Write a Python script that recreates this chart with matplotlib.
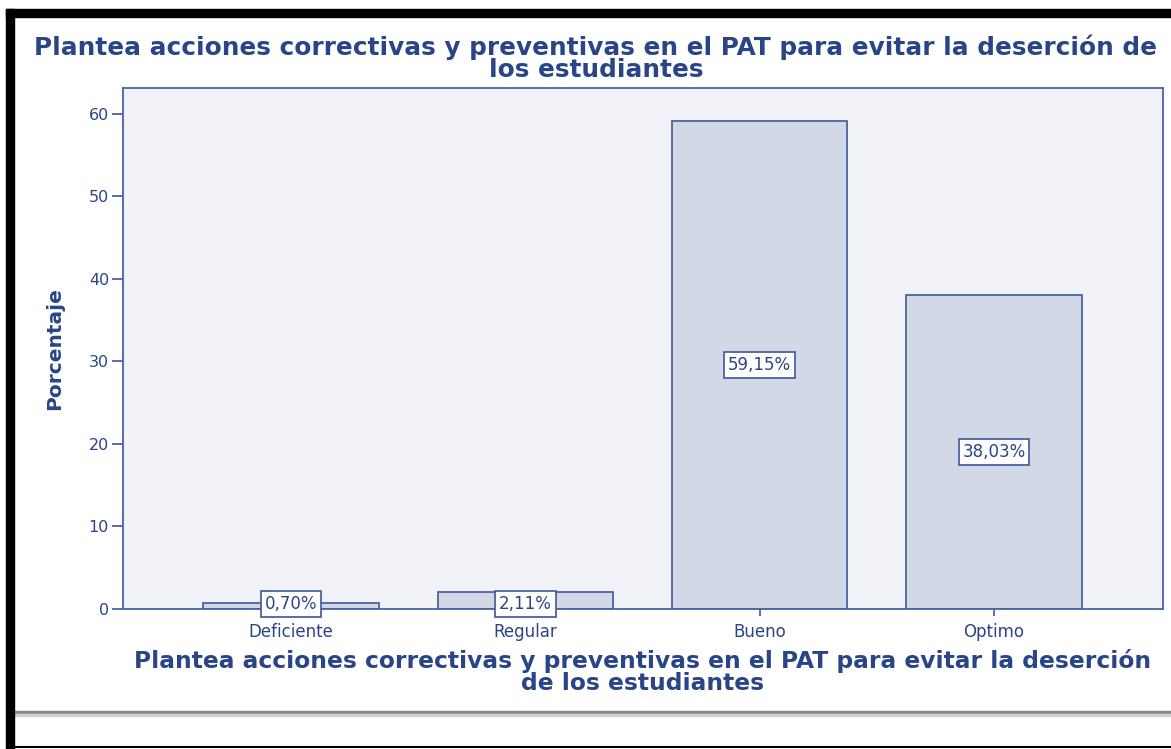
import matplotlib
matplotlib.use("Agg")
import matplotlib.pyplot as plt
from matplotlib.patches import Rectangle
from matplotlib.lines import Line2D

categorias = ["Deficiente", "Regular", "Bueno", "Optimo"]
porcentajes = [0.70, 2.11, 59.15, 38.03]
etiquetas = ["0,70%", "2,11%", "59,15%", "38,03%"]
yticks = [0, 10, 20, 30, 40, 50, 60]

titulo = "Plantea acciones correctivas y preventivas en el PAT para evitar la deserción de\nlos estudiantes"
xlab = "Plantea acciones correctivas y preventivas en el PAT para evitar la deserción\nde los estudiantes"

azul = "#2a4587"
borde = "#4a63a0"
relleno = "#d2d8e5"
fondo = "#f1f2f7"

plt.rcParams["font.family"] = ["DejaVu Sans"]

fig = plt.figure(figsize=(11.71, 7.49), dpi=100)
W, H = 1171, 749

# axes position in pixels: left 123, right 1163, top 88, bottom 609
ax = fig.add_axes([123 / W, 1 - 609 / H, (1163 - 123) / W, (609 - 88) / H])
ax.set_facecolor(fondo)

x = range(len(categorias))
ax.bar(x, porcentajes, width=0.75, color=relleno, edgecolor=borde, linewidth=1.3, zorder=2)

for i, (v, t) in enumerate(zip(porcentajes, etiquetas)):
    ax.text(i, v / 2 if v > 5 else 0.6, t, ha="center", va="center", fontsize=12, color=azul,
            zorder=3, bbox=dict(boxstyle="square,pad=0.22", fc="white", ec=borde, lw=1.3))

ax.set_xlim(-0.718, 3.722)
ax.set_ylim(0, 63.15)
ax.set_yticks(yticks)
ax.set_xticks(list(x))
ax.set_xticklabels(categorias)
ax.tick_params(axis="y", colors=borde, labelcolor=azul, labelsize=11.5, length=8, width=1.3, pad=2)
ax.tick_params(axis="x", colors=borde, labelcolor=azul, labelsize=12, length=5, width=1.3, pad=5)
for s in ax.spines.values():
    s.set_color(borde)
    s.set_linewidth(1.3)

ax.set_ylabel("Porcentaje", fontsize=14.5, fontweight="bold", color=azul, labelpad=18)
ax.set_xlabel(xlab, fontsize=16.8, fontweight="bold", color=azul, labelpad=6, linespacing=0.95)

fig.text(596 / W, 1 - 58 / H, titulo, ha="center", va="center", fontsize=17.8, fontweight="bold",
         color=azul, linespacing=0.92)

# black frame of the screenshot
fig.patches.append(Rectangle((6 / W, 1 - 749 / H), 8 / W, (749 - 9) / H, transform=fig.transFigure,
                             color="black", zorder=10))
fig.patches.append(Rectangle((6 / W, 1 - 17 / H), 1 - 6 / W, 8 / H, transform=fig.transFigure,
                             color="black", zorder=10))
fig.lines.append(Line2D([14 / W, 1], [1 - 747 / H, 1 - 747 / H], transform=fig.transFigure,
                        color="black", lw=1.5))
fig.lines.append(Line2D([14 / W, 1], [1 - 712 / H, 1 - 712 / H], transform=fig.transFigure,
                        color="#888888", lw=2.5))
fig.lines.append(Line2D([14 / W, 1], [1 - 715 / H, 1 - 715 / H], transform=fig.transFigure,
                        color="#d0d0d0", lw=2.5))

fig.savefig("out.png", dpi=100)
